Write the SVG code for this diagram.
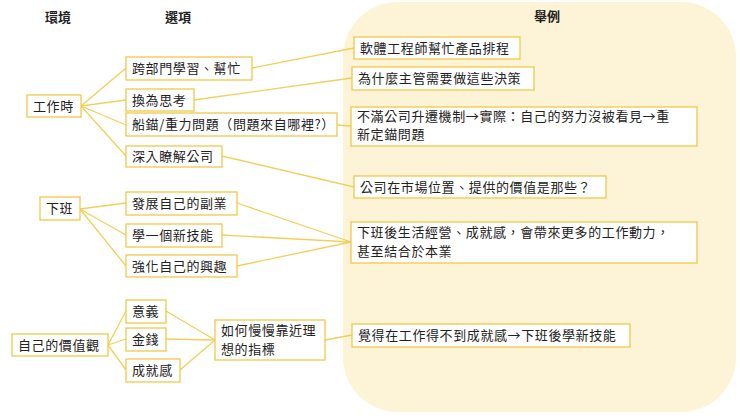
<svg xmlns="http://www.w3.org/2000/svg" width="740" height="416" viewBox="0 0 740 416">
<style>
text{font-family:"Noto Sans CJK TC","Noto Sans CJK SC",sans-serif;font-size:13px;fill:#222;letter-spacing:0.6px}
.h{font-size:13px;font-weight:bold;letter-spacing:0}
.b{fill:#fff;stroke:#f0c94a;stroke-width:1.3}
#c line{stroke:#f2cf5b;stroke-width:1.3}
</style>
<rect x="343" y="2" width="393" height="410" rx="55" fill="#fdf3d6"/>
<text class="h" x="58" y="22" text-anchor="middle">環境</text>
<text class="h" x="178" y="22" text-anchor="middle">選項</text>
<text class="h" x="547" y="21" text-anchor="middle">舉例</text>
<g id="c">
<line x1="81" y1="106" x2="126" y2="68"/>
<line x1="81" y1="106" x2="126" y2="100"/>
<line x1="81" y1="106" x2="126" y2="125"/>
<line x1="81" y1="106" x2="126" y2="156"/>
<line x1="252" y1="68" x2="354" y2="48"/>
<line x1="194" y1="100" x2="352" y2="78"/>
<line x1="337" y1="125" x2="351" y2="126"/>
<line x1="222" y1="156" x2="354" y2="187"/>
<line x1="80" y1="209" x2="126" y2="203"/>
<line x1="80" y1="209" x2="126" y2="235"/>
<line x1="80" y1="209" x2="126" y2="266"/>
<line x1="237" y1="203" x2="351" y2="242"/>
<line x1="222" y1="235" x2="351" y2="242"/>
<line x1="237" y1="266" x2="351" y2="242"/>
<line x1="108" y1="345" x2="126" y2="311"/>
<line x1="108" y1="345" x2="126" y2="339"/>
<line x1="108" y1="345" x2="126" y2="370"/>
<line x1="166" y1="311" x2="215" y2="340"/>
<line x1="166" y1="339" x2="215" y2="340"/>
<line x1="180" y1="370" x2="215" y2="340"/>
<line x1="325" y1="340" x2="352" y2="335"/>
</g>
<g id="n1"><rect class="b" x="27" y="95" width="54" height="22"/><text x="33" y="111">工作時</text></g>
<g id="n2"><rect class="b" x="126" y="57" width="126" height="23"/><text x="132" y="73">跨部門學習、幫忙</text></g>
<g id="n3"><rect class="b" x="126" y="89" width="68" height="22"/><text x="132" y="105">換為思考</text></g>
<g id="n4"><rect class="b" x="126" y="113" width="211" height="23"/><text x="132" y="129">船錨/重力問題（問題來自哪裡?）</text></g>
<g id="n5"><rect class="b" x="126" y="146" width="96" height="21"/><text x="132" y="161">深入瞭解公司</text></g>
<g id="n6"><rect class="b" x="354" y="37" width="166" height="22"/><text x="360" y="53">軟體工程師幫忙產品排程</text></g>
<g id="n7"><rect class="b" x="352" y="67" width="182" height="23"/><text x="358" y="83">為什麼主管需要做這些決策</text></g>
<g id="n8"><rect class="b" x="351" y="107" width="346" height="39"/><text x="357" y="121">不滿公司升遷機制→實際：自己的努力沒被看見→重</text><text x="357" y="139">新定錨問題</text></g>
<g id="n9"><rect class="b" x="354" y="176" width="252" height="22"/><text x="360" y="192">公司在市場位置、提供的價值是那些？</text></g>
<g id="n10"><rect class="b" x="40" y="197" width="40" height="23"/><text x="46" y="213">下班</text></g>
<g id="n11"><rect class="b" x="126" y="192" width="111" height="23"/><text x="132" y="208">發展自己的副業</text></g>
<g id="n12"><rect class="b" x="126" y="224" width="96" height="23"/><text x="132" y="240">學一個新技能</text></g>
<g id="n13"><rect class="b" x="126" y="255" width="111" height="22"/><text x="132" y="271">強化自己的興趣</text></g>
<g id="n14"><rect class="b" x="351" y="222" width="346" height="41"/><text x="357" y="237">下班後生活經營、成就感，會帶來更多的工作動力，</text><text x="357" y="256">甚至結合於本業</text></g>
<g id="n15"><rect class="b" x="12" y="334" width="96" height="22"/><text x="18" y="350">自己的價值觀</text></g>
<g id="n16"><rect class="b" x="126" y="300" width="40" height="23"/><text x="132" y="316">意義</text></g>
<g id="n17"><rect class="b" x="126" y="328" width="40" height="23"/><text x="132" y="344">金錢</text></g>
<g id="n18"><rect class="b" x="126" y="359" width="54" height="23"/><text x="132" y="375">成就感</text></g>
<g id="n19"><rect class="b" x="215" y="320" width="110" height="40"/><text x="221" y="335">如何慢慢靠近理</text><text x="221" y="354">想的指標</text></g>
<g id="n20"><rect class="b" x="352" y="324" width="278" height="23"/><text x="358" y="340">覺得在工作得不到成就感→下班後學新技能</text></g>
</svg>
